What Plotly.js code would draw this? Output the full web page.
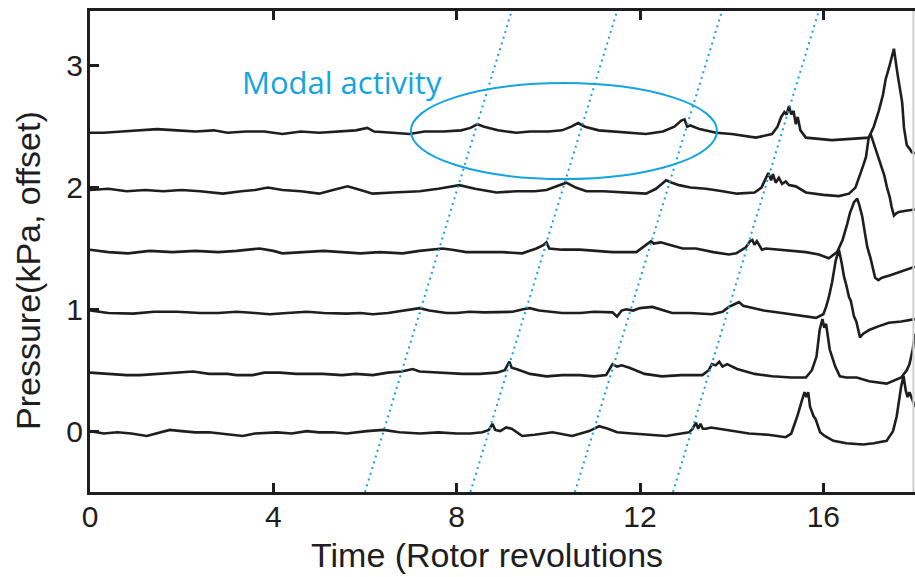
<!DOCTYPE html>
<html>
<head>
<meta charset="utf-8">
<script src="https://cdn.plot.ly/plotly-3.0.1.min.js"></script>
<style>
  html, body { margin: 0; padding: 0; background: #fff; }
  #chart { width: 915px; height: 577px; }
</style>
</head>
<body>
<div id="chart"></div>
<script>
// Pressure traces from six sensors, each shifted by a fixed offset (kPa).
const t0 = [0,0.3,0.6,0.9,1.24,1.45,1.74,2.0,2.3,2.6,2.9,3.33,3.6,4.08,4.4,4.73,5.0,5.3,5.6,6.04,6.4,6.75,7.2,7.6,8.0,8.3,8.56,8.7,8.78,8.84,8.95,9.08,9.2,9.43,9.7,10.09,10.52,10.89,11.0,11.11,11.3,11.5,11.83,12.2,12.57,12.9,13.07,13.15,13.22,13.27,13.32,13.37,13.44,13.55,13.73,14.0,14.38,14.8,15.18,15.3,15.43,15.54,15.59,15.63,15.67,15.71,15.75,15.79,15.83,15.93,16.03,16.22,16.5,16.87,17.1,17.38,17.52,17.6,17.7,17.75,17.8,17.84,17.88,17.95,18.0];
const p0 = [0.0,-0.02,-0.01,-0.02,-0.04,-0.02,0.01,0.0,-0.01,-0.01,-0.02,-0.04,-0.02,-0.01,-0.02,0.0,-0.01,-0.01,-0.02,0.0,0.01,-0.01,-0.02,-0.01,-0.02,-0.02,-0.01,0.01,0.06,0.01,0.0,0.03,0.02,-0.04,-0.03,-0.01,-0.04,0.0,0.02,0.04,0.02,-0.01,-0.02,-0.03,-0.04,-0.02,-0.01,0.02,0.07,0.02,0.06,0.02,0.02,0.03,0.02,0.0,-0.02,-0.03,-0.05,-0.02,0.12,0.26,0.32,0.28,0.32,0.2,0.16,0.12,0.1,-0.01,-0.04,-0.08,-0.1,-0.11,-0.1,-0.08,0.0,0.12,0.37,0.45,0.33,0.28,0.32,0.24,0.2];

const t1 = [0,0.4,0.8,1.09,1.5,1.9,2.25,2.6,3.0,3.2,3.55,3.8,4.14,4.5,5.08,5.5,5.8,6.17,6.5,6.8,7.04,7.19,7.6,8.13,8.5,8.87,9.05,9.15,9.2,9.3,9.6,9.96,10.3,10.68,11.0,11.26,11.4,11.5,11.6,11.77,12.1,12.48,12.9,13.36,13.5,13.57,13.65,13.73,13.8,13.9,14.12,14.5,14.88,15.3,15.62,15.75,15.85,15.92,15.98,16.02,16.06,16.14,16.2,16.26,16.36,16.5,16.73,17.0,17.38,17.57,17.7,17.82,17.88,17.95,18.0];
const p1 = [0.48,0.47,0.46,0.46,0.47,0.48,0.49,0.47,0.47,0.46,0.46,0.48,0.48,0.47,0.47,0.46,0.47,0.46,0.48,0.49,0.51,0.49,0.48,0.47,0.47,0.48,0.5,0.57,0.52,0.51,0.47,0.45,0.46,0.46,0.45,0.46,0.55,0.53,0.54,0.52,0.47,0.45,0.46,0.46,0.5,0.55,0.54,0.57,0.53,0.55,0.51,0.47,0.45,0.44,0.44,0.5,0.61,0.83,0.92,0.85,0.88,0.67,0.6,0.53,0.45,0.44,0.44,0.41,0.39,0.42,0.44,0.5,0.55,0.67,0.8];

const t2 = [0,0.4,0.94,1.4,1.9,2.4,2.8,3.2,3.6,3.92,4.3,4.73,5.1,5.6,5.9,6.17,6.5,6.9,7.19,7.4,7.78,8.0,8.28,8.6,9.0,9.22,9.45,9.59,9.8,10.3,10.7,11.0,11.4,11.5,11.6,11.7,11.85,12.0,12.27,12.45,12.7,13.1,13.57,13.8,13.94,14.05,14.16,14.25,14.38,14.7,15.1,15.5,15.84,16.0,16.06,16.12,16.19,16.27,16.34,16.4,16.45,16.5,16.56,16.6,16.67,16.72,16.8,16.87,17.0,17.2,17.43,17.7,17.93,18.0];
const p2 = [0.99,0.97,0.965,0.98,0.98,0.97,0.97,0.98,0.97,0.96,0.97,0.98,0.97,0.965,0.97,0.96,0.97,0.99,1.01,0.99,0.97,0.97,0.98,0.975,0.98,0.98,1.0,1.01,0.99,0.97,0.97,0.98,0.975,0.94,0.99,1.0,0.99,1.01,1.02,1.0,0.97,0.97,0.96,0.98,1.02,1.04,1.06,1.03,1.02,0.99,0.97,0.95,0.93,0.96,1.02,1.1,1.22,1.4,1.49,1.38,1.27,1.2,1.1,1.07,0.94,0.9,0.77,0.8,0.83,0.86,0.89,0.9,0.92,0.92];

const t3 = [0,0.4,0.83,1.3,1.8,2.3,2.8,3.2,3.7,4.0,4.2,4.6,5.1,5.5,5.9,6.32,6.82,7.19,7.5,7.69,7.9,8.21,8.6,9.0,9.43,9.74,9.9,9.96,10.02,10.3,10.68,11.0,11.4,11.92,12.13,12.24,12.3,12.45,12.64,12.93,13.22,13.6,13.94,14.1,14.31,14.4,14.45,14.5,14.55,14.66,14.75,15.0,15.3,15.62,15.9,16.12,16.3,16.42,16.52,16.58,16.67,16.74,16.79,16.85,16.91,16.96,17.03,17.09,17.13,17.2,17.28,17.46,17.7,17.93,18.0];
const p3 = [1.49,1.47,1.46,1.48,1.47,1.48,1.47,1.48,1.5,1.48,1.46,1.47,1.48,1.47,1.46,1.47,1.46,1.48,1.49,1.5,1.49,1.47,1.47,1.47,1.46,1.5,1.53,1.55,1.5,1.49,1.49,1.48,1.47,1.47,1.53,1.56,1.54,1.55,1.53,1.5,1.5,1.47,1.45,1.46,1.51,1.56,1.57,1.53,1.56,1.49,1.5,1.49,1.48,1.47,1.45,1.42,1.47,1.57,1.7,1.79,1.88,1.91,1.85,1.76,1.62,1.51,1.42,1.32,1.26,1.24,1.26,1.28,1.31,1.34,1.35];

const t4 = [0,0.4,0.8,1.2,1.6,2.0,2.4,2.9,3.3,3.6,3.88,4.2,4.6,5.0,5.3,5.62,5.9,6.17,6.6,7.19,7.6,8.06,8.4,8.87,9.3,9.7,9.96,10.17,10.39,10.6,10.83,11.2,11.6,12.13,12.35,12.5,12.57,12.7,12.85,13.1,13.44,13.8,14.12,14.5,14.65,14.75,14.8,14.86,14.9,14.96,15.03,15.1,15.18,15.25,15.4,15.62,16.0,16.34,16.56,16.7,16.78,16.86,16.93,16.99,17.04,17.1,17.15,17.22,17.28,17.33,17.39,17.45,17.49,17.54,17.6,17.65,17.8,17.93,18.0];
const p4 = [1.98,1.99,1.97,1.98,1.97,1.98,1.97,1.95,1.97,1.98,2.0,1.98,1.97,1.95,1.98,2.01,1.98,1.95,1.96,1.97,1.99,2.02,1.99,1.96,1.97,1.97,1.98,2.01,2.04,2.0,1.97,1.97,1.96,1.95,1.99,2.04,2.06,2.04,2.02,2.0,1.99,1.97,1.95,1.96,2.0,2.08,2.12,2.06,2.11,2.04,2.08,2.03,2.05,2.02,2.01,1.96,1.94,1.93,1.95,2.0,2.08,2.17,2.25,2.41,2.43,2.36,2.31,2.22,2.14,2.1,2.0,1.92,1.84,1.77,1.79,1.8,1.81,1.82,1.82];

const t5 = [0,0.3,0.7,1.0,1.46,1.9,2.3,2.7,3.0,3.4,3.8,4.2,4.6,5.0,5.4,5.8,6.05,6.2,6.6,6.97,7.3,7.7,8.1,8.3,8.45,8.6,8.9,9.3,9.6,10.0,10.3,10.5,10.65,10.8,11.1,11.5,11.8,12.13,12.5,12.75,12.9,12.97,13.03,13.1,13.3,13.66,14.0,14.53,14.88,15.0,15.08,15.15,15.2,15.25,15.3,15.35,15.4,15.44,15.5,15.62,15.9,16.19,16.6,16.99,17.1,17.21,17.3,17.36,17.43,17.54,17.62,17.69,17.72,17.76,17.82,17.88,17.93,18.0];
const p5 = [2.45,2.45,2.46,2.47,2.48,2.47,2.46,2.47,2.45,2.46,2.46,2.44,2.46,2.45,2.46,2.47,2.49,2.46,2.45,2.44,2.46,2.46,2.47,2.49,2.52,2.5,2.47,2.45,2.46,2.46,2.47,2.5,2.53,2.5,2.47,2.46,2.45,2.44,2.46,2.5,2.55,2.56,2.5,2.51,2.48,2.45,2.44,2.41,2.44,2.5,2.58,2.62,2.6,2.67,2.6,2.63,2.52,2.58,2.47,2.41,2.4,2.39,2.4,2.41,2.5,2.63,2.76,2.89,2.98,3.14,2.93,2.77,2.7,2.49,2.35,2.32,2.29,2.28];

const times = [t0, t1, t2, t3, t4, t5];
const pressures = [p0, p1, p2, p3, p4, p5];

// Travelling mode: dotted guide lines, start (bottom) and end (top) revolutions
const modeStart = [6.0, 8.3, 10.58, 12.72];
const modeEnd = [9.2, 11.5, 13.79, 15.9];

// Ellipse around the modal activity region and its label
const ellipseX = [7.0, 13.68];
const ellipseY = [2.07, 2.858];
const labelText = 'Modal activity';
const labelPos = [5.49, 2.87];

const xTicks = [0, 4, 8, 12, 16];
const yTicks = [0, 1, 2, 3];
const xRange = [0, 18];
const yRange = [-0.5, 3.45];

const xTitle = 'Time (Rotor revolutions';
const yTitle = 'Pressure(kPa, offset)';

const blue = '#14a4de';
const ink = '#1e1e1e';
const font = 'Liberation Sans, Arial, sans-serif';

const traces = times.map((t, i) => ({
  x: t, y: pressures[i], type: 'scatter', mode: 'lines',
  line: { color: ink, width: 2.6 },
  showlegend: false, hoverinfo: 'skip'
}));

const shapes = modeStart.map((x0, i) => ({
  type: 'line', xref: 'x', yref: 'y',
  x0: x0, y0: yRange[0], x1: modeEnd[i], y1: yRange[1],
  line: { color: blue, width: 2, dash: '2px,4px' }
}));
shapes.push({
  type: 'circle', xref: 'x', yref: 'y',
  x0: ellipseX[0], x1: ellipseX[1], y0: ellipseY[0], y1: ellipseY[1],
  line: { color: blue, width: 2 }
});
shapes.push({
  type: 'line', xref: 'paper', yref: 'paper',
  x0: 0.998, x1: 0.998, y0: 0, y1: 1,
  line: { color: '#cfcfcf', width: 2 }
});

const axisCommon = {
  ticks: 'inside', ticklen: 9, tickwidth: 3, tickcolor: ink,
  showgrid: false, zeroline: false,
  tickfont: { family: font, size: 30, color: ink }
};

const layout = {
  width: 915, height: 577,
  margin: { l: 90, r: 0, t: 11, b: 85 },
  paper_bgcolor: '#fff', plot_bgcolor: '#fff',
  xaxis: Object.assign({}, axisCommon, {
    range: xRange, tickvals: xTicks, ticktext: xTicks.map(String),
    showline: true, linewidth: 3, linecolor: ink, mirror: 'ticks',
    ticklabelstandoff: -4
  }),
  yaxis: Object.assign({}, axisCommon, {
    range: yRange, tickvals: yTicks, ticktext: yTicks.map(String),
    showline: true, linewidth: 3, linecolor: ink, mirror: false,
    ticklabelstandoff: -2
  }),
  yaxis2: Object.assign({}, axisCommon, {
    overlaying: 'y', side: 'right', range: yRange, tickvals: yTicks,
    showticklabels: false, showline: false
  }),
  shapes: shapes,
  annotations: [
    {
      text: labelText, x: labelPos[0], y: labelPos[1], xref: 'x', yref: 'y',
      xanchor: 'center', yanchor: 'middle', showarrow: false,
      font: { family: 'Open Sans, sans-serif', size: 31, color: blue }
    },
    {
      text: xTitle, xref: 'paper', yref: 'paper', x: 0.4818, y: -0.131,
      xanchor: 'center', yanchor: 'middle', showarrow: false,
      font: { family: font, size: 34, color: ink }
    },
    {
      text: yTitle, xref: 'paper', yref: 'paper', x: -0.0752, y: 0.4615,
      xanchor: 'center', yanchor: 'middle', textangle: -90, showarrow: false,
      font: { family: font, size: 34, color: ink }
    }
  ]
};

Plotly.newPlot('chart', traces, layout, { displayModeBar: false, staticPlot: true });
</script>
</body>
</html>
